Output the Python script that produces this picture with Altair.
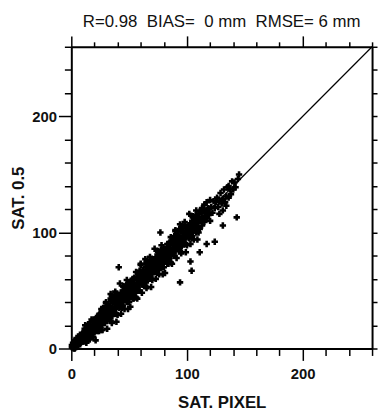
import altair as alt
import pandas as pd

# ---- data ----
# scattered points, grouped by SAT. PIXEL range
seg00_x = [1, 2, 2, 3, 3, 4, 4, 5, 5, 6, 6, 7, 7, 8, 8, 9, 9, 10, 10, 3]
seg00_y = [1, 0, 3, 2, 5, 1, 6, 3, 8, 2, 9, 4, 10, 5, 11, 7, 12, 6, 13, 0]

seg10_x = [11, 11, 12, 12, 13, 13, 14, 14, 15, 15, 16, 16, 17, 17, 18, 18, 19, 19, 20, 20, 12, 14, 16, 18, 20, 13, 15, 17, 19, 11]
seg10_y = [10, 9, 13, 8, 16, 11, 14, 8, 19, 12, 18, 8, 17, 14, 24, 13, 20, 10, 23, 14, 20, 12, 20, 13, 21, 5, 20, 15, 15, 11]

seg20_x = [21, 21, 22, 22, 23, 23, 24, 24, 25, 25, 26, 26, 27, 27, 28, 28, 29, 29, 30, 30, 22, 24, 26, 28, 30, 23, 25, 27, 29, 21]
seg20_y = [21, 17, 25, 19, 16, 28, 15, 25, 24, 19, 34, 23, 31, 16, 29, 26, 35, 22, 32, 39, 17, 29, 16, 25, 40, 15, 25, 30, 26, 7]

seg30_x = [31, 31, 32, 32, 33, 33, 34, 34, 35, 35, 36, 36, 37, 37, 38, 38, 39, 39, 40, 40, 32, 34, 36, 38, 40, 33, 35, 37, 39, 31]
seg30_y = [29, 34, 28, 38, 26, 34, 43, 24, 34, 22, 40, 33, 44, 32, 49, 30, 41, 23, 45, 29, 32, 47, 30, 46, 38, 24, 45, 33, 40, 17]

seg40_x = [41, 41, 42, 42, 43, 43, 44, 44, 45, 45, 46, 46, 47, 47, 48, 48, 49, 49, 50, 50, 42, 44, 46, 48, 50, 43, 45, 47, 49, 41]
seg40_y = [40, 38, 44, 36, 48, 41, 45, 35, 53, 40, 50, 34, 47, 43, 59, 41, 52, 34, 56, 40, 56, 41, 53, 40, 52, 30, 54, 45, 43, 42]

seg50_x = [51, 51, 52, 52, 53, 53, 54, 54, 55, 55, 56, 56, 57, 57, 58, 58, 59, 59, 60, 60, 52, 54, 56, 58, 60, 53, 55, 57, 59, 51]
seg50_y = [51, 46, 56, 49, 45, 60, 43, 56, 54, 48, 66, 52, 62, 43, 59, 56, 67, 50, 63, 72, 46, 60, 44, 55, 73, 43, 55, 61, 55, 36]

seg60_x = [61, 61, 62, 62, 63, 63, 64, 64, 65, 65, 66, 66, 67, 67, 68, 68, 69, 69, 70, 70, 62, 64, 66, 68, 70, 63, 65, 67, 69, 61]
seg60_y = [59, 64, 58, 68, 56, 64, 73, 54, 64, 52, 70, 63, 74, 62, 79, 60, 71, 53, 75, 59, 62, 77, 60, 76, 68, 54, 75, 63, 70, 48]

seg70_x = [71, 71, 72, 72, 73, 73, 74, 74, 75, 75, 76, 76, 77, 77, 78, 78, 79, 79, 80, 80, 72, 74, 76, 78, 80, 73, 75, 77, 79, 71]
seg70_y = [70, 68, 74, 66, 78, 71, 75, 65, 83, 70, 80, 64, 77, 73, 89, 71, 82, 64, 86, 70, 86, 71, 83, 70, 82, 60, 84, 75, 73, 72]

seg80_x = [81, 81, 82, 82, 83, 83, 84, 84, 85, 85, 86, 86, 87, 87, 88, 88, 89, 89, 90, 90, 82, 84, 86, 88, 90, 83, 85, 87, 89, 81]
seg80_y = [81, 76, 86, 79, 75, 90, 73, 86, 84, 78, 96, 82, 92, 73, 89, 86, 97, 80, 93, 101, 76, 90, 74, 85, 102, 73, 85, 91, 85, 65]

seg90_x = [91, 91, 92, 92, 93, 93, 94, 94, 95, 95, 96, 96, 97, 97, 98, 98, 99, 99, 100, 100, 92, 94, 96, 98, 100, 93, 95, 97, 99, 91]
seg90_y = [89, 94, 88, 98, 86, 94, 103, 84, 94, 82, 100, 93, 104, 92, 109, 90, 101, 83, 105, 89, 92, 107, 90, 106, 98, 84, 105, 93, 100, 78]

seg100_x = [101, 101, 102, 102, 103, 103, 104, 104, 105, 105, 106, 106, 107, 107, 108, 108, 109, 109, 110, 110, 102, 104, 106, 108, 110, 103, 105, 107, 109, 101]
seg100_y = [100, 98, 104, 96, 108, 101, 105, 95, 113, 100, 110, 94, 107, 103, 119, 101, 112, 94, 116, 100, 116, 101, 113, 100, 112, 90, 114, 105, 103, 102]

seg110_x = [111, 111, 112, 113, 113, 114, 115, 115, 116, 117, 117, 118, 119, 120, 120, 121, 122, 123, 124, 125]
seg110_y = [103, 118, 110, 106, 121, 113, 109, 124, 117, 112, 126, 120, 115, 110, 128, 122, 117, 127, 121, 126]

top_x = [126, 127, 128, 129, 130, 131, 132, 133, 134, 135, 136, 137, 138, 139, 140, 141, 142, 144, 145, 128, 131, 134, 136]
top_y = [130, 122, 127, 134, 125, 129, 137, 126, 131, 139, 130, 137, 133, 144, 137, 143, 139, 146, 150, 116, 119, 123, 140]

# dense core of the band
core00_x = [0.5, 0.5, 1.5, 1.5, 2.5, 2.5, 3.5, 3.5, 4.5, 4.5, 5.5, 5.5, 6.5, 6.5, 7.5, 7.5, 8.5, 8.5, 9.5, 9.5]
core00_y = [3, 1, 2, 5, 6, 2, 4, 7, 9, 5, 7, 3, 9, 6, 8, 12, 10, 7, 13, 9]
core10_x = [10.5, 10.5, 11.5, 11.5, 12.5, 12.5, 13.5, 13.5, 14.5, 14.5, 15.5, 15.5, 16.5, 16.5, 17.5, 17.5, 18.5, 18.5, 19.5, 19.5]
core10_y = [13, 6, 10, 17, 17, 6, 10, 15, 21, 12, 15, 8, 20, 11, 15, 25, 19, 10, 25, 16]
core20_x = [20.5, 20.5, 21.5, 21.5, 22.5, 22.5, 23.5, 23.5, 24.5, 24.5, 25.5, 25.5, 26.5, 26.5, 27.5, 27.5, 28.5, 28.5, 29.5, 29.5]
core20_y = [18, 25, 22, 15, 17, 26, 26, 22, 17, 30, 27, 22, 22, 33, 35, 25, 22, 31, 29, 24]
core30_x = [30.5, 30.5, 31.5, 31.5, 32.5, 32.5, 33.5, 33.5, 34.5, 34.5, 35.5, 35.5, 36.5, 36.5, 37.5, 37.5, 38.5, 38.5, 39.5, 39.5]
core30_y = [33, 26, 30, 37, 37, 26, 30, 35, 41, 32, 35, 28, 40, 31, 35, 45, 39, 30, 45, 36]
core40_x = [40.5, 40.5, 41.5, 41.5, 42.5, 42.5, 43.5, 43.5, 44.5, 44.5, 45.5, 45.5, 46.5, 46.5, 47.5, 47.5, 48.5, 48.5, 49.5, 49.5]
core40_y = [38, 45, 42, 35, 37, 46, 46, 42, 37, 50, 47, 42, 42, 53, 55, 45, 42, 51, 49, 44]
core50_x = [50.5, 50.5, 51.5, 51.5, 52.5, 52.5, 53.5, 53.5, 54.5, 54.5, 55.5, 55.5, 56.5, 56.5, 57.5, 57.5, 58.5, 58.5, 59.5, 59.5]
core50_y = [53, 46, 50, 57, 57, 46, 50, 55, 61, 52, 55, 48, 60, 51, 55, 65, 59, 50, 65, 56]
core60_x = [60.5, 60.5, 61.5, 61.5, 62.5, 62.5, 63.5, 63.5, 64.5, 64.5, 65.5, 65.5, 66.5, 66.5, 67.5, 67.5, 68.5, 68.5, 69.5, 69.5]
core60_y = [58, 65, 62, 55, 57, 66, 66, 62, 57, 70, 67, 62, 62, 73, 75, 65, 62, 71, 69, 64]
core70_x = [70.5, 70.5, 71.5, 71.5, 72.5, 72.5, 73.5, 73.5, 74.5, 74.5, 75.5, 75.5, 76.5, 76.5, 77.5, 77.5, 78.5, 78.5, 79.5, 79.5]
core70_y = [73, 66, 70, 77, 77, 66, 70, 75, 81, 72, 75, 68, 80, 71, 75, 85, 79, 70, 85, 76]
core80_x = [80.5, 80.5, 81.5, 81.5, 82.5, 82.5, 83.5, 83.5, 84.5, 84.5, 85.5, 85.5, 86.5, 86.5, 87.5, 87.5, 88.5, 88.5, 89.5, 89.5]
core80_y = [78, 85, 82, 75, 77, 86, 86, 82, 77, 90, 87, 82, 82, 93, 95, 85, 82, 91, 89, 84]
core90_x = [90.5, 90.5, 91.5, 91.5, 92.5, 92.5, 93.5, 93.5, 94.5, 94.5, 95.5, 95.5, 96.5, 96.5, 97.5, 97.5, 98.5, 98.5, 99.5, 99.5]
core90_y = [93, 86, 90, 97, 97, 86, 90, 95, 101, 92, 95, 88, 100, 91, 95, 105, 99, 90, 105, 96]
core100_x = [100.5, 100.5, 101.5, 101.5, 102.5, 102.5, 103.5, 103.5, 104.5, 104.5, 105.5, 105.5, 106.5, 106.5, 107.5, 107.5, 108.5, 108.5, 109.5, 109.5]
core100_y = [98, 105, 102, 95, 97, 106, 106, 102, 97, 110, 107, 102, 102, 113, 115, 105, 102, 111, 109, 104]
core110_x = [110.5, 111.5, 112.5, 113.5, 114.5, 115.5, 116.5, 117.5, 118.5, 119.5]
core110_y = [113, 110, 117, 113, 119, 112, 118, 115, 121, 117]

# isolated points away from the band
out_x = [41, 77, 94, 104, 103, 111, 117, 124, 131, 143]
out_y = [70, 100, 57, 67, 75, 83, 90, 92, 106, 113]

# 1:1 line
line_x = [0, 260]
line_y = [0, 260]

ticks20 = [0, 20, 40, 60, 80, 100, 120, 140, 160, 180, 200, 220, 240, 260]

xs = (seg00_x + seg10_x + seg20_x + seg30_x + seg40_x + seg50_x + seg60_x + seg70_x +
      seg80_x + seg90_x + seg100_x + seg110_x + top_x +
      core00_x + core10_x + core20_x + core30_x + core40_x + core50_x + core60_x +
      core70_x + core80_x + core90_x + core100_x + core110_x + out_x)
ys = (seg00_y + seg10_y + seg20_y + seg30_y + seg40_y + seg50_y + seg60_y + seg70_y +
      seg80_y + seg90_y + seg100_y + seg110_y + top_y +
      core00_y + core10_y + core20_y + core30_y + core40_y + core50_y + core60_y +
      core70_y + core80_y + core90_y + core100_y + core110_y + out_y)
pts = pd.DataFrame({"x": xs, "y": ys})
ln = pd.DataFrame({"x": line_x, "y": line_y})

FONT = "Liberation Sans"
xscale = alt.Scale(domain=[0, 260], nice=False, zero=False)
yscale = alt.Scale(domain=[0, 260], nice=False, zero=False)

major = "datum.value % 100 === 0"


def tsize(big, small):
    return {"condition": {"test": major, "value": big}, "value": small}


common = dict(domainColor="black", domainWidth=2, tickColor="black", tickWidth=1.5,
              grid=False, labelFont=FONT, labelFontSize=15, labelFontWeight="bold",
              labelColor="#111", titleFont=FONT, titleFontSize=17, titleFontWeight="bold",
              titleColor="#111", values=ticks20,
              labelExpr="datum.value % 100 === 0 ? datum.label : ''")

x_bottom = alt.Axis(orient="bottom", title="SAT. PIXEL", tickSize=tsize(12, 7),
                    labelPadding=6, titlePadding=14, labelFlush=False, **common)
y_left = alt.Axis(orient="left", title="SAT. 0.5", tickSize=tsize(13, 7),
                  labelPadding=2, titlePadding=4, labelFlush=False, **common)
x_top = alt.Axis(orient="top", title=None, labels=False, values=ticks20,
                 tickSize=tsize(11, 5), domainColor="black", domainWidth=2,
                 tickColor="black", tickWidth=1.5, grid=False)
y_right = alt.Axis(orient="right", title=None, labels=False, values=ticks20,
                   tickSize=5, domainColor="black", domainWidth=2,
                   tickColor="black", tickWidth=1.5, grid=False)

points = alt.Chart(pts).mark_point(shape="cross", filled=True, size=42, color="black",
                                   opacity=1, strokeWidth=0).encode(
    x=alt.X("x:Q", scale=xscale, axis=x_bottom),
    y=alt.Y("y:Q", scale=yscale, axis=y_left),
)

diag = alt.Chart(ln).mark_line(color="black", strokeWidth=1.2).encode(
    x=alt.X("x:Q", scale=xscale, axis=x_top),
    y=alt.Y("y:Q", scale=yscale, axis=y_right),
)

title_text = "R=0.98\u00a0\u00a0BIAS=\u00a0\u00a00\u00a0mm\u00a0\u00a0RMSE=\u00a06\u00a0mm"

chart = alt.layer(points, diag).resolve_axis(x="independent", y="independent").properties(
    width=304, height=305,
    autosize=alt.AutoSizeParams(type="none"),
    padding={"left": 64, "top": 37, "right": 6, "bottom": 64},
    title=alt.TitleParams(title_text, font=FONT, fontSize=17,
                          fontWeight="normal", color="#111", anchor="middle",
                          baseline="alphabetic", offset=-9),
).configure_view(stroke=None).configure(background="white")

chart.save("out.html", embed_options={"renderer": "svg", "actions": False})
